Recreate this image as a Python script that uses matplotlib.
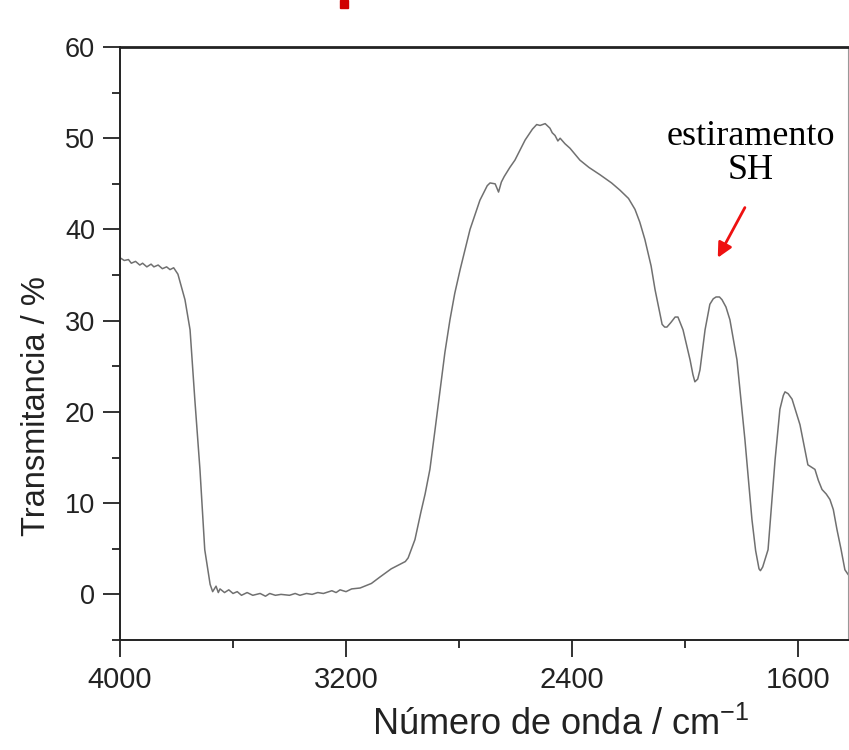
import matplotlib
matplotlib.use("Agg")
import matplotlib.pyplot as plt
from matplotlib.patches import Rectangle
from matplotlib.ticker import MultipleLocator

wavenumber = [4000, 3985, 3970, 3960, 3945, 3930, 3920, 3905, 3890, 3880, 3865, 3850, 3835,
              3823, 3810, 3795, 3770, 3752, 3735, 3717, 3700,
              3681, 3672, 3660, 3652, 3646, 3630, 3615, 3600, 3585, 3570, 3550, 3530, 3504,
              3485, 3470, 3450, 3430, 3400, 3380, 3363, 3340, 3320, 3300, 3280, 3250, 3235,
              3221, 3200, 3180, 3150, 3110, 3080, 3040, 3009, 2990, 2980, 2956, 2935, 2920,
              2903, 2885, 2867, 2850, 2832, 2815, 2796, 2761, 2726, 2700, 2690, 2672, 2660,
              2650, 2640, 2620, 2602, 2566, 2540, 2525, 2513, 2495, 2478, 2470, 2460, 2450,
              2442, 2425, 2407, 2372, 2340, 2301, 2260, 2230, 2200, 2177, 2160, 2142, 2120,
              2106, 2090, 2081, 2072, 2064, 2050, 2035, 2025, 2007, 1995, 1982, 1972, 1965,
              1955, 1947, 1935, 1929, 1912, 1900, 1890, 1878, 1869, 1855, 1841, 1816,
              1788, 1763, 1750, 1738, 1733, 1725, 1706, 1681, 1664, 1652, 1646, 1635,
              1621, 1593, 1565, 1555, 1540, 1528, 1515, 1500, 1487, 1475, 1462, 1448,
              1434, 1423]
transmittance = [36.9, 36.6, 36.7, 36.3, 36.5, 36.1, 36.3, 35.9, 36.2, 35.9, 36.1, 35.7, 35.9,
                 35.6, 35.8, 35.1, 32.3, 29.0, 21.3, 13.7, 4.9,
                 1.1, 0.3, 0.9, 0.2, 0.6, 0.2, 0.5, 0.1, 0.3, -0.1, 0.2, -0.1, 0.1,
                 -0.2, 0.1, -0.1, 0.0, -0.1, 0.1, -0.1, 0.1, 0.0, 0.2, 0.1, 0.4, 0.2,
                 0.5, 0.3, 0.6, 0.7, 1.2, 1.9, 2.8, 3.3, 3.6, 4.0, 6.0, 9.0, 11.0,
                 13.7, 18.0, 22.4, 26.5, 30.1, 33.0, 35.6, 40.0, 43.2, 44.8, 45.1, 45.0, 44.1,
                 45.2, 45.8, 46.8, 47.6, 49.8, 51.0, 51.5, 51.4, 51.6, 51.1, 50.6, 50.3, 49.7,
                 50.0, 49.4, 48.9, 47.6, 46.8, 46.0, 45.1, 44.3, 43.4, 42.2, 40.8, 38.9, 36.0,
                 33.4, 31.0, 29.6, 29.3, 29.3, 29.8, 30.4, 30.4, 29.0, 27.4, 25.7, 24.1, 23.3,
                 23.6, 24.6, 27.5, 29.0, 31.8, 32.4, 32.6, 32.6, 32.3, 31.5, 30.1, 25.7,
                 17.0, 8.2, 4.8, 2.8, 2.6, 3.0, 4.9, 14.8, 20.3, 21.8, 22.2, 22.0,
                 21.4, 18.6, 14.2, 14.0, 13.7, 12.5, 11.5, 11.0, 10.4, 9.3, 7.1, 5.0,
                 2.7, 2.2]

x_ticks = [4000, 3200, 2400, 1600]
y_ticks = [0, 10, 20, 30, 40, 50, 60]

fig = plt.figure(figsize=(8.49, 7.5), dpi=100)
ax = fig.add_axes([120/849, 1 - 640/750, (848-120)/849, (640-47)/750])

ax.plot(wavenumber, transmittance, color="#707070", lw=1.1)

ax.set_xlim(4000, 1423)
ax.set_ylim(-5, 60)
ax.set_xticks(x_ticks)
ax.set_yticks(y_ticks)
ax.xaxis.set_minor_locator(MultipleLocator(400))
ax.yaxis.set_minor_locator(MultipleLocator(5))

for s in ax.spines.values():
    s.set_linewidth(1.4)
    s.set_color("#222222")
ax.spines["right"].set_linewidth(0.8)
ax.spines["right"].set_color("#999999")
ax.spines["top"].set_linewidth(2.0)

ax.tick_params(which="major", direction="out", length=12, width=1.3, colors="#222222")
ax.tick_params(which="minor", direction="out", length=6, width=1.3, colors="#222222")
ax.tick_params(axis="x", which="major", labelsize=21, pad=7)
ax.tick_params(axis="y", which="major", labelsize=19.5, pad=6)
ax.tick_params(top=False, right=False, which="both")
for lab in ax.get_xticklabels() + ax.get_yticklabels():
    lab.set_fontfamily("Liberation Sans")

ax.set_xlabel("Número de onda / cm$^{\\mathregular{-1}}$", fontsize=26,
              fontfamily="Liberation Sans", color="#222222")
ax.set_ylabel("Transmitancia / %", fontsize=23.5, fontfamily="Liberation Sans",
              color="#222222")
ax.xaxis.set_label_coords(0.605, -0.113)
ax.yaxis.set_label_coords(-0.093, 0.395)

ax.text(1766, 48.3, "estiramento\nSH", ha="center", va="center",
        fontsize=26, fontfamily="Liberation Serif", linespacing=1.05)
ax.annotate("", xy=(1884, 36.9), xytext=(1788, 42.4),
            arrowprops=dict(arrowstyle="-|>", color="#ee1111", lw=2,
                            mutation_scale=22, shrinkA=0, shrinkB=0))

fig.patches.append(Rectangle((340/849, 1 - 8/750), 8/849, 8/750,
                             transform=fig.transFigure, color="#d00000"))

fig.savefig("out.png", dpi=100)
